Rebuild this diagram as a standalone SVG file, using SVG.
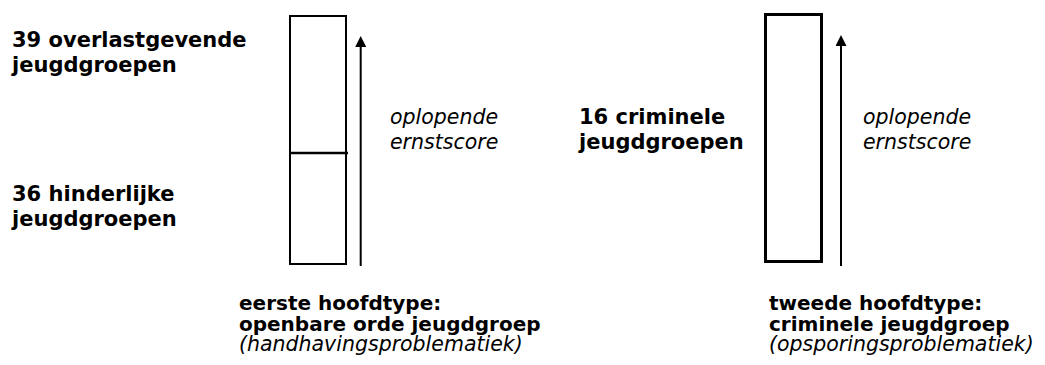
<svg xmlns="http://www.w3.org/2000/svg" width="1045" height="365" viewBox="0 0 1045 365">
<style>
.b{font-family:"DejaVu Sans",Verdana,sans-serif;font-weight:bold;font-size:21px;fill:#000}
.bs{font-family:"DejaVu Sans",Verdana,sans-serif;font-weight:bold;font-size:20px;fill:#000}
.i{font-family:"DejaVu Sans",Verdana,sans-serif;font-style:italic;font-size:20.5px;fill:#000}
.box{fill:#fff;stroke:#000}
.ax{stroke:#000;stroke-width:2;fill:none}
</style>
<defs>
<marker id="ah" markerWidth="11" markerHeight="11" refX="0" refY="5.5" orient="auto" markerUnits="userSpaceOnUse" viewBox="0 0 11 11">
<path d="M0 0 L11 5.5 L0 11 Z" fill="#000"/>
</marker>
</defs>
<rect width="1045" height="365" fill="#fff"/>
<g id="box1">
<rect class="box" x="290" y="16" width="56" height="248" stroke-width="2"/>
<line x1="291" y1="153" x2="348" y2="153" stroke="#000" stroke-width="2.5"/>
</g>
<g id="box2">
<rect class="box" x="765.5" y="14.5" width="56" height="247" stroke-width="3"/>
</g>
<g id="connectors">
<line class="ax" x1="360.7" y1="266" x2="360.7" y2="47" marker-end="url(#ah)"/>
<line class="ax" x1="841" y1="266" x2="841" y2="46" marker-end="url(#ah)" stroke-width="1.8"/>
</g>
<g id="label-overlast">
<text class="b" x="12" y="47">39 overlastgevende</text>
<text class="b" x="12" y="72">jeugdgroepen</text>
</g>
<g id="label-hinderlijk">
<text class="b" x="12" y="201">36 hinderlijke</text>
<text class="b" x="12" y="226">jeugdgroepen</text>
</g>
<g id="label-ernst1">
<text class="i" x="390" y="124">oplopende</text>
<text class="i" x="390" y="149">ernstscore</text>
</g>
<g id="label-crimineel">
<text class="b" x="579" y="124">16 criminele</text>
<text class="b" x="579" y="149">jeugdgroepen</text>
</g>
<g id="label-ernst2">
<text class="i" x="863" y="124">oplopende</text>
<text class="i" x="863" y="149">ernstscore</text>
</g>
<g id="label-type1">
<text class="bs" x="239" y="310">eerste hoofdtype:</text>
<text class="bs" x="239" y="330.5">openbare orde jeugdgroep</text>
<text class="i" x="239" y="351">(handhavingsproblematiek)</text>
</g>
<g id="label-type2">
<text class="bs" x="769" y="310">tweede hoofdtype:</text>
<text class="bs" x="769" y="330.5">criminele jeugdgroep</text>
<text class="i" x="769" y="351">(opsporingsproblematiek)</text>
</g>
</svg>
